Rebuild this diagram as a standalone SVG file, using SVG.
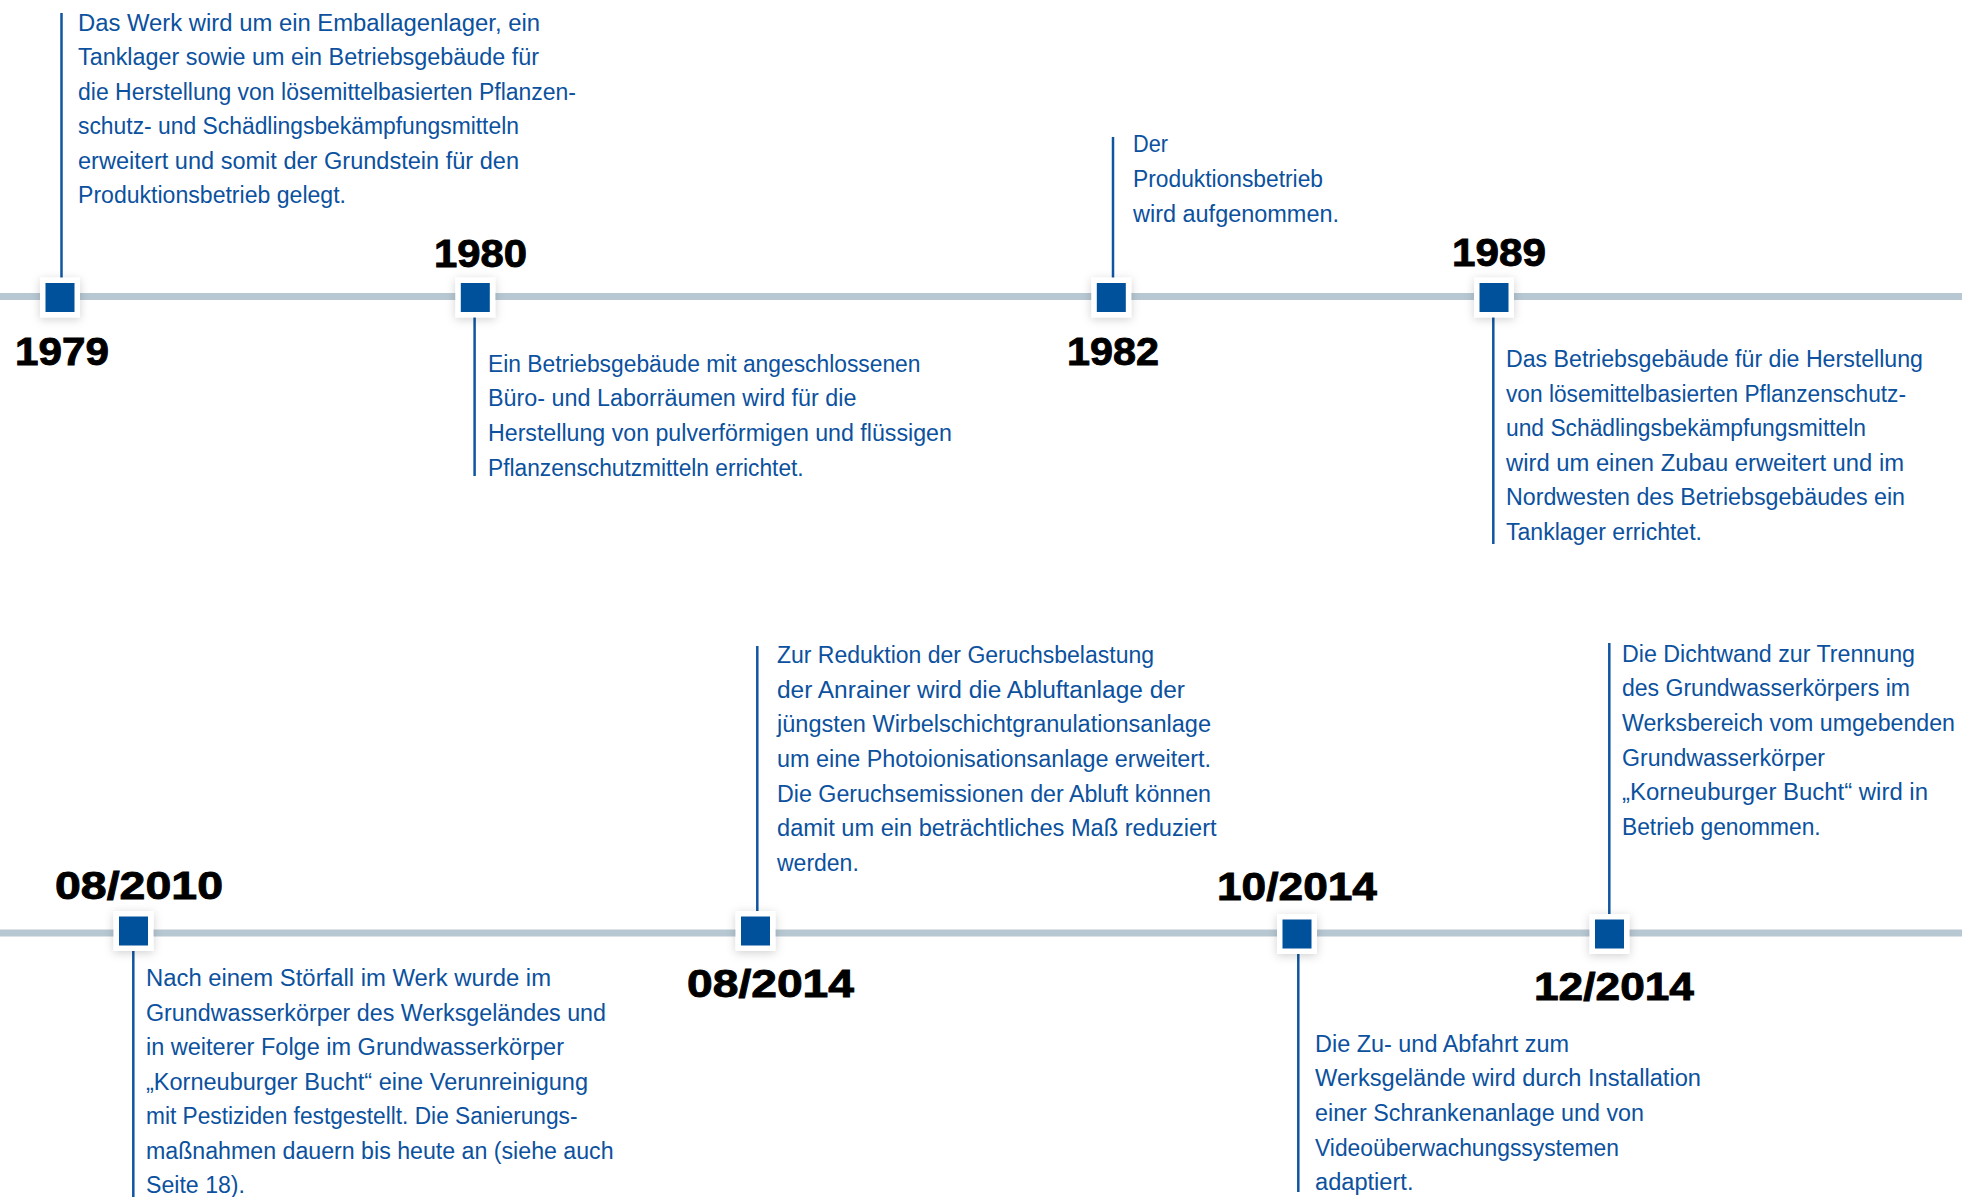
<svg xmlns="http://www.w3.org/2000/svg" width="1962" height="1197" viewBox="0 0 1962 1197">
  <defs>
    <filter id="soft" x="-60%" y="-60%" width="220%" height="220%">
      <feDropShadow dx="0" dy="2" stdDeviation="5" flood-color="#000" flood-opacity="0.18"/>
    </filter>
    <g id="marker">
      <rect x="-20" y="-20" width="40" height="40" fill="#fff" filter="url(#soft)"/>
      <rect x="-14.5" y="-14.5" width="29" height="29" fill="#00519c"/>
    </g>
  </defs>
  <style>
    .axis { fill: #b7c8d3; }
    .lead { stroke: #0f55a0; stroke-width: 2.5; fill: none; }
    .body { font-family: "Liberation Sans", Arial, sans-serif; font-size: 23.5px; fill: #0b519e; }
    .year { font-family: "Liberation Sans", Arial, sans-serif; font-size: 39px; font-weight: bold; fill: #000; stroke: #000; stroke-width: 0.9; }
  </style>
  <rect width="1962" height="1197" fill="#fff"/>

  <!-- timeline axes -->
  <g id="axes">
    <rect class="axis" x="0" y="293" width="1962" height="7"/>
    <rect class="axis" x="0" y="929.5" width="1962" height="7"/>
  </g>

  <!-- leader lines from the markers to their descriptions -->
  <g id="connectors">
    <line class="lead" x1="61.5" y1="13" x2="61.5" y2="278"/>
    <line class="lead" x1="474.6" y1="317" x2="474.6" y2="476"/>
    <line class="lead" x1="1113" y1="137" x2="1113" y2="278"/>
    <line class="lead" x1="1493.3" y1="317" x2="1493.3" y2="544"/>
    <line class="lead" x1="133.3" y1="951" x2="133.3" y2="1197"/>
    <line class="lead" x1="757.3" y1="646" x2="757.3" y2="911"/>
    <line class="lead" x1="1298.3" y1="954" x2="1298.3" y2="1192"/>
    <line class="lead" x1="1609.3" y1="643" x2="1609.3" y2="914"/>
  </g>

  <g id="event-1979">
    <use href="#marker" x="60" y="297.5"/>
    <text class="year" x="15" y="365" textLength="94" lengthAdjust="spacingAndGlyphs">1979</text>
    <text class="body" x="78" y="30.5" textLength="462" lengthAdjust="spacingAndGlyphs">Das Werk wird um ein Emballagenlager, ein</text>
    <text class="body" x="78" y="65" textLength="461" lengthAdjust="spacingAndGlyphs">Tanklager sowie um ein Betriebsgebäude für</text>
    <text class="body" x="78" y="99.5" textLength="498" lengthAdjust="spacingAndGlyphs">die Herstellung von lösemittelbasierten Pflanzen-</text>
    <text class="body" x="78" y="134" textLength="441" lengthAdjust="spacingAndGlyphs">schutz- und Schädlingsbekämpfungsmitteln</text>
    <text class="body" x="78" y="168.5" textLength="441" lengthAdjust="spacingAndGlyphs">erweitert und somit der Grundstein für den</text>
    <text class="body" x="78" y="203" textLength="268" lengthAdjust="spacingAndGlyphs">Produktionsbetrieb gelegt.</text>
  </g>

  <g id="event-1980">
    <use href="#marker" x="475.3" y="297.5"/>
    <text class="year" x="434" y="266.5" textLength="93" lengthAdjust="spacingAndGlyphs">1980</text>
    <text class="body" x="488" y="371.7" textLength="432.5" lengthAdjust="spacingAndGlyphs">Ein Betriebsgebäude mit angeschlossenen</text>
    <text class="body" x="488" y="406.3" textLength="368.5" lengthAdjust="spacingAndGlyphs">Büro- und Laborräumen wird für die</text>
    <text class="body" x="488" y="440.9" textLength="463.8" lengthAdjust="spacingAndGlyphs">Herstellung von pulverförmigen und flüssigen</text>
    <text class="body" x="488" y="475.5" textLength="315.7" lengthAdjust="spacingAndGlyphs">Pflanzenschutzmitteln errichtet.</text>
  </g>

  <g id="event-1982">
    <use href="#marker" x="1111.3" y="297.5"/>
    <text class="year" x="1067" y="365" textLength="92" lengthAdjust="spacingAndGlyphs">1982</text>
    <text class="body" x="1133" y="152" textLength="35" lengthAdjust="spacingAndGlyphs">Der</text>
    <text class="body" x="1133" y="186.8" textLength="190" lengthAdjust="spacingAndGlyphs">Produktionsbetrieb</text>
    <text class="body" x="1133" y="221.6" textLength="206" lengthAdjust="spacingAndGlyphs">wird aufgenommen.</text>
  </g>

  <g id="event-1989">
    <use href="#marker" x="1494" y="297.5"/>
    <text class="year" x="1452" y="266" textLength="94" lengthAdjust="spacingAndGlyphs">1989</text>
    <text class="body" x="1506" y="367" textLength="417" lengthAdjust="spacingAndGlyphs">Das Betriebsgebäude für die Herstellung</text>
    <text class="body" x="1506" y="401.6" textLength="400" lengthAdjust="spacingAndGlyphs">von lösemittelbasierten Pflanzenschutz-</text>
    <text class="body" x="1506" y="436.2" textLength="360" lengthAdjust="spacingAndGlyphs">und Schädlingsbekämpfungsmitteln</text>
    <text class="body" x="1506" y="470.8" textLength="398" lengthAdjust="spacingAndGlyphs">wird um einen Zubau erweitert und im</text>
    <text class="body" x="1506" y="505.4" textLength="399" lengthAdjust="spacingAndGlyphs">Nordwesten des Betriebsgebäudes ein</text>
    <text class="body" x="1506" y="540" textLength="196" lengthAdjust="spacingAndGlyphs">Tanklager errichtet.</text>
  </g>

  <g id="event-2010-08">
    <use href="#marker" x="133.5" y="931"/>
    <text class="year" x="55" y="899" textLength="168" lengthAdjust="spacingAndGlyphs">08/2010</text>
    <text class="body" x="146" y="986" textLength="405" lengthAdjust="spacingAndGlyphs">Nach einem Störfall im Werk wurde im</text>
    <text class="body" x="146" y="1020.5" textLength="460" lengthAdjust="spacingAndGlyphs">Grundwasserkörper des Werksgeländes und</text>
    <text class="body" x="146" y="1055" textLength="418" lengthAdjust="spacingAndGlyphs">in weiterer Folge im Grundwasserkörper</text>
    <text class="body" x="146" y="1089.5" textLength="442" lengthAdjust="spacingAndGlyphs">„Korneuburger Bucht“ eine Verunreinigung</text>
    <text class="body" x="146" y="1124" textLength="431.5" lengthAdjust="spacingAndGlyphs">mit Pestiziden festgestellt. Die Sanierungs-</text>
    <text class="body" x="146" y="1158.5" textLength="467.6" lengthAdjust="spacingAndGlyphs">maßnahmen dauern bis heute an (siehe auch</text>
    <text class="body" x="146" y="1193" textLength="99" lengthAdjust="spacingAndGlyphs">Seite 18).</text>
  </g>

  <g id="event-2014-08">
    <use href="#marker" x="755.5" y="931"/>
    <text class="year" x="687" y="997" textLength="167" lengthAdjust="spacingAndGlyphs">08/2014</text>
    <text class="body" x="777" y="663.3" textLength="377" lengthAdjust="spacingAndGlyphs">Zur Reduktion der Geruchsbelastung</text>
    <text class="body" x="777" y="697.9" textLength="408" lengthAdjust="spacingAndGlyphs">der Anrainer wird die Abluftanlage der</text>
    <text class="body" x="777" y="732.4" textLength="434" lengthAdjust="spacingAndGlyphs">jüngsten Wirbelschichtgranulationsanlage</text>
    <text class="body" x="777" y="767" textLength="434" lengthAdjust="spacingAndGlyphs">um eine Photoionisationsanlage erweitert.</text>
    <text class="body" x="777" y="801.6" textLength="434" lengthAdjust="spacingAndGlyphs">Die Geruchsemissionen der Abluft können</text>
    <text class="body" x="777" y="836.1" textLength="439.6" lengthAdjust="spacingAndGlyphs">damit um ein beträchtliches Maß reduziert</text>
    <text class="body" x="777" y="870.7" textLength="81.8" lengthAdjust="spacingAndGlyphs">werden.</text>
  </g>

  <g id="event-2014-10">
    <use href="#marker" x="1297" y="934"/>
    <text class="year" x="1217" y="900" textLength="160" lengthAdjust="spacingAndGlyphs">10/2014</text>
    <text class="body" x="1315" y="1051.7" textLength="254" lengthAdjust="spacingAndGlyphs">Die Zu- und Abfahrt zum</text>
    <text class="body" x="1315" y="1086.3" textLength="386" lengthAdjust="spacingAndGlyphs">Werksgelände wird durch Installation</text>
    <text class="body" x="1315" y="1120.9" textLength="329" lengthAdjust="spacingAndGlyphs">einer Schrankenanlage und von</text>
    <text class="body" x="1315" y="1155.5" textLength="304" lengthAdjust="spacingAndGlyphs">Videoüberwachungssystemen</text>
    <text class="body" x="1315" y="1190" textLength="98.5" lengthAdjust="spacingAndGlyphs">adaptiert.</text>
  </g>

  <g id="event-2014-12">
    <use href="#marker" x="1609.5" y="934"/>
    <text class="year" x="1534" y="1000" textLength="160" lengthAdjust="spacingAndGlyphs">12/2014</text>
    <text class="body" x="1622" y="661.7" textLength="293" lengthAdjust="spacingAndGlyphs">Die Dichtwand zur Trennung</text>
    <text class="body" x="1622" y="696.4" textLength="288" lengthAdjust="spacingAndGlyphs">des Grundwasserkörpers im</text>
    <text class="body" x="1622" y="731" textLength="333" lengthAdjust="spacingAndGlyphs">Werksbereich vom umgebenden</text>
    <text class="body" x="1622" y="765.6" textLength="203" lengthAdjust="spacingAndGlyphs">Grundwasserkörper</text>
    <text class="body" x="1622" y="800.2" textLength="306" lengthAdjust="spacingAndGlyphs">„Korneuburger Bucht“ wird in</text>
    <text class="body" x="1622" y="834.8" textLength="198.7" lengthAdjust="spacingAndGlyphs">Betrieb genommen.</text>
  </g>
</svg>
